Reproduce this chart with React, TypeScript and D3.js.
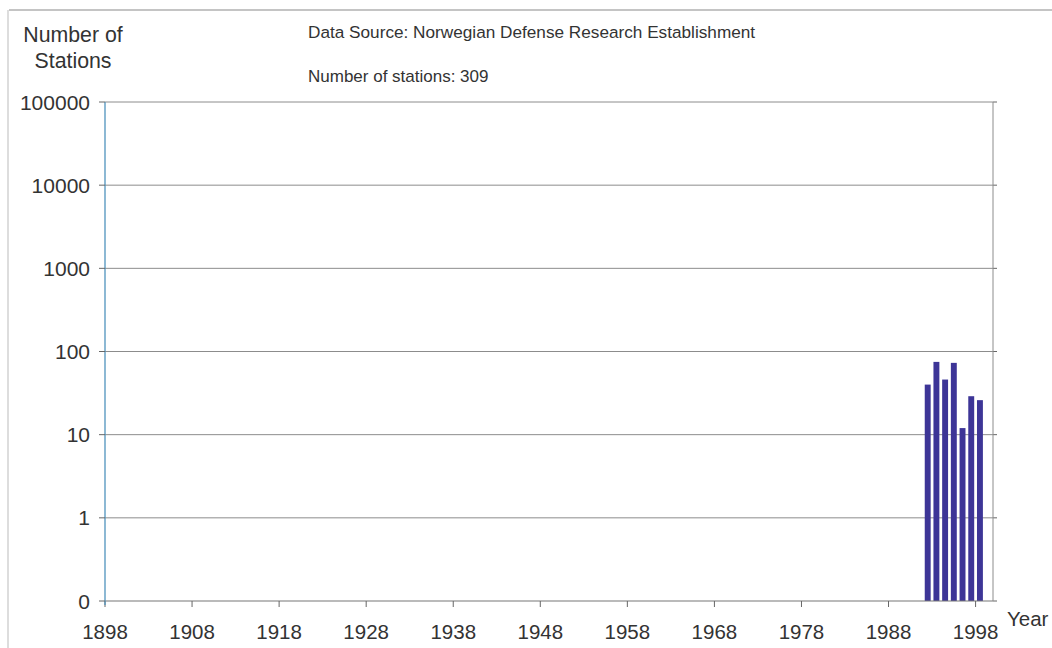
import React from "react";
import * as d3 from "d3";

const years: number[] = d3.range(1898, 2000);
const barYears = [1992, 1993, 1994, 1995, 1996, 1997, 1998];
const barValues = [40, 75, 46, 73, 12, 29, 26];
const yTicks = [0.1, 1, 10, 100, 1000, 10000, 100000];
const yTickLabels = ["0", "1", "10", "100", "1000", "10000", "100000"];
const xTickYears = [1898, 1908, 1918, 1928, 1938, 1948, 1958, 1968, 1978, 1988, 1998];

const W = 1052;
const H = 648;
const left = 105;
const right = 993;
const top = 102;
const bottom = 601;

export default function App() {
  const x = d3.scaleBand<number>().domain(years).range([left, right]).padding(0);
  const y = d3.scaleLog().domain([0.1, 100000]).range([bottom, top]);
  const bw = x.bandwidth();
  const barW = bw * 0.68;
  const font = "Arial, 'Liberation Sans', sans-serif";
  const textColor = "#333";

  return (
    <svg
      width={W}
      height={H}
      style={{ position: "absolute", left: 0, top: 0, background: "#fff" }}
      fontFamily={font}
    >
      {/* outer frame */}
      <line x1={9} y1={10} x2={W} y2={10} stroke="#8a8a8a" strokeWidth={1.2} />
      <line x1={8} y1={10} x2={8} y2={H} stroke="#bbb" strokeWidth={1} />

      {/* gridlines */}
      {yTicks.slice(1).map((t) => (
        <line key={"g" + t} x1={left} x2={right} y1={y(t)} y2={y(t)} stroke="#8c8c8c" strokeWidth={1} />
      ))}
      {/* right ticks outside border */}
      {yTicks.map((t) => (
        <line key={"r" + t} x1={right} x2={right + 4} y1={y(t)} y2={y(t)} stroke="#666" strokeWidth={1} />
      ))}
      {/* right border */}
      <line x1={right} x2={right} y1={top} y2={bottom} stroke="#8c8c8c" strokeWidth={1} />

      {/* bars */}
      {barYears.map((yr, i) => (
        <rect
          key={yr}
          x={(x(yr) as number) + (bw - barW) / 2}
          width={barW}
          y={y(barValues[i])}
          height={bottom - y(barValues[i])}
          fill="#3d3597"
        />
      ))}

      {/* x axis */}
      <line x1={left} x2={right} y1={bottom} y2={bottom} stroke="#777" strokeWidth={1.2} />
      {xTickYears.map((yr) => (
        <g key={"x" + yr}>
          <line x1={x(yr)} x2={x(yr)} y1={bottom} y2={bottom + 6} stroke="#666" strokeWidth={1} />
          <text x={x(yr)} y={638.5} textAnchor="middle" fontSize={20.5} fill={textColor}>
            {yr}
          </text>
        </g>
      ))}
      <text x={1007} y={626} fontSize={20.5} fill={textColor}>
        Year
      </text>

      {/* y axis */}
      <line x1={left} x2={left} y1={top} y2={bottom + 4} stroke="#4f93bd" strokeWidth={1.3} />
      {yTicks.map((t, i) => (
        <g key={"y" + t}>
          <line x1={left - 6} x2={left} y1={y(t)} y2={y(t)} stroke="#666" strokeWidth={1} />
          <text x={90} y={y(t) + 7.5} textAnchor="end" fontSize={21} fill={textColor}>
            {yTickLabels[i]}
          </text>
        </g>
      ))}

      {/* y axis title */}
      <text x={73} y={42} textAnchor="middle" fontSize={21.3} fill={textColor}>
        Number of
      </text>
      <text x={73} y={68} textAnchor="middle" fontSize={21.3} fill={textColor}>
        Stations
      </text>

      {/* annotations */}
      <text x={308} y={38} fontSize={17.2} fill={textColor}>
        Data Source: Norwegian Defense Research Establishment
      </text>
      <text x={308} y={82} fontSize={17} fill={textColor}>
        Number of stations: 309
      </text>
    </svg>
  );
}
